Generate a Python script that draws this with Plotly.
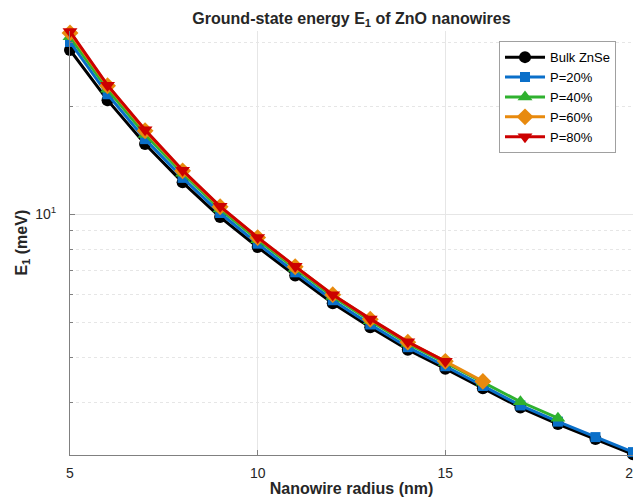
import plotly.graph_objects as go

radius = list(range(5, 21))

bulk = [28.7, 20.8, 15.7, 12.28, 9.83, 8.11, 6.76, 5.66, 4.85, 4.20, 3.72, 3.28, 2.90, 2.61, 2.37, 2.15]
p20 = [30.2, 21.6, 16.2, 12.64, 10.09, 8.29, 6.90, 5.77, 4.94, 4.27, 3.78, 3.33, 2.94, 2.65, 2.40, 2.18]
p40 = [31.2, 22.3, 16.7, 13.02, 10.35, 8.50, 7.07, 5.91, 5.06, 4.37, 3.87, 3.41, 3.01, 2.71]
p60 = [32.0, 22.8, 17.1, 13.22, 10.50, 8.62, 7.15, 5.98, 5.11, 4.41, 3.90, 3.43]
p80 = [32.3, 22.9, 17.2, 13.27, 10.53, 8.63, 7.17, 5.98, 5.12, 4.42, 3.90]

series = [
    ("Bulk ZnSe", bulk, "#000000", "circle", 12),
    ("P=20%", p20, "#0a6fc9", "square", 10),
    ("P=40%", p40, "#2fb12f", "triangle-up", 13),
    ("P=60%", p60, "#e88a0e", "diamond", 13),
    ("P=80%", p80, "#cc0000", "triangle-down", 13),
]

FONT = "Liberation Sans, Arial, sans-serif"
fig = go.Figure()
for name, vals, col, sym, sz in series:
    fig.add_trace(go.Scatter(
        x=radius[:len(vals)], y=vals, name=name, mode="lines+markers",
        line=dict(color=col, width=3),
        marker=dict(symbol=sym, size=sz, color=col, line=dict(width=0)),
        cliponaxis=False,
    ))

# page body has an 8px margin; figure is 633x491 so it fills the 641x499 window
fig.update_layout(
    width=633, height=491,
    margin=dict(l=62, r=8, t=23, b=44, autoexpand=False),
    paper_bgcolor="white", plot_bgcolor="white",
    font=dict(family=FONT, size=14, color="#262626"),
    title=dict(text="<b>Ground-state energy E<sub>1</sub> of ZnO nanowires</b>",
               x=(62 + 625) / 2 / 633, xanchor="center", y=1 - 10 / 491, yanchor="middle",
               font=dict(size=16, color="#262626")),
    showlegend=True,
    legend=dict(x=0.762, y=0.976, xanchor="left", yanchor="top",
                bgcolor="white", bordercolor="#a0a0a0", borderwidth=1,
                font=dict(size=13, color="#000000"), tracegroupgap=0,
                itemwidth=40),
    annotations=[dict(text="<b>E<sub>1</sub> (meV)</b>", xref="paper", yref="paper",
                      x=-0.086, y=0.5, xanchor="center", yanchor="middle",
                      textangle=-90, showarrow=False,
                      font=dict(size=16, color="#262626"))],
)

fig.update_xaxes(
    automargin=False,
    range=[5, 20], tickvals=[5, 10, 15, 20], ticks="inside", ticklen=5,
    tickcolor="#808080", showline=True, linecolor="#808080", linewidth=1,
    showgrid=True, gridcolor="#e6e6e6", gridwidth=1, zeroline=False,
    tickfont=dict(size=14, color="#262626"), ticklabelstandoff=5,
    title=dict(text="<b>Nanowire radius (nm)</b>", font=dict(size=16, color="#262626"), standoff=3),
)

fig.update_yaxes(
    automargin=False,
    type="log", range=[0.3304, 1.5105],
    tickvals=[10], ticktext=["10<sup>1</sup>"], ticks="inside", ticklen=5,
    tickcolor="#808080", showline=True, linecolor="#808080", linewidth=1,
    showgrid=True, gridcolor="#e6e6e6", gridwidth=1, zeroline=False,
    tickfont=dict(size=14, color="#262626"), ticklabelstandoff=10,
    minor=dict(tickvals=[3, 4, 5, 6, 7, 8, 9, 20, 30], ticks="inside", ticklen=3,
               tickcolor="#808080", showgrid=True, gridcolor="#e6e6e6", griddash="dot"),
)

fig.write_html("out.html")
